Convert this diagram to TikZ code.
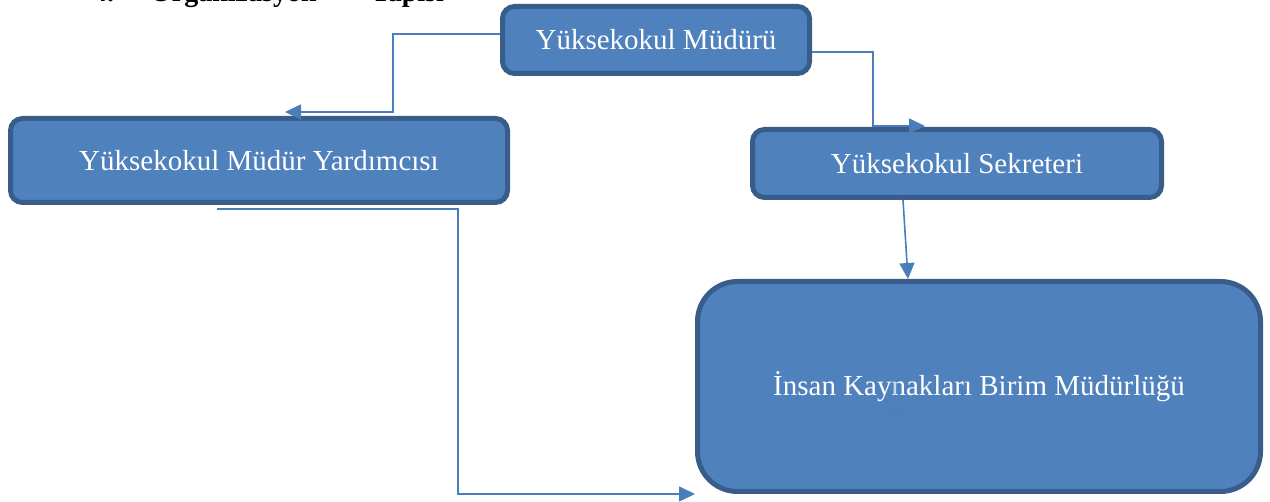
\documentclass[tikz,border=0pt]{standalone}
\usepackage{fontspec}
\setmainfont{Liberation Serif}
\usetikzlibrary{arrows.meta}

\definecolor{boxfill}{HTML}{4F81BD}
\definecolor{boxline}{HTML}{385D8A}
\definecolor{connline}{HTML}{4A7EBB}

\tikzset{
  unitbox/.style={draw=boxline,line width=5pt,fill=boxfill,rounded corners=12pt,
    text=white,align=center,inner sep=0pt,font=\fontsize{29}{34}\selectfont},
  conn/.style={draw=connline,line width=1.6pt,
    -{Triangle[length=16pt,width=15pt]}},
}

\begin{document}
\begin{tikzpicture}[x=1pt,y=-1pt]%
\useasboundingbox (0,0) rectangle (1270,502);%
\clip (0,0) rectangle (1270,502);%
% heading, cut off at the top edge
\node[anchor=base west,inner sep=0pt,font=\bfseries\fontsize{28}{30}\selectfont] (title) at (93,2) {4.\hspace{36pt}Organizasyon\hspace{54pt}Yapısı};%
% units
\node[unitbox,minimum width=307pt,minimum height=67pt] (mudur) at (656,40) {Yüksekokul Müdürü};%
\node[unitbox,minimum width=497pt,minimum height=84pt] (yard) at (259,160.5) {Yüksekokul Müdür Yardımcısı};%
\node[unitbox,minimum width=409pt,minimum height=68pt] (sekr) at (957,163.5) {Yüksekokul Sekreteri};%
\node[unitbox,minimum width=563pt,minimum height=210pt,rounded corners=40pt] (insan) at (979,386.5) {İnsan Kaynakları Birim Müdürlüğü};%
% connectors
\draw[conn] ([yshift=6pt]mudur.west) -| ([shift={(134pt,4pt)}]yard.north) -- ([shift={(26pt,4pt)}]yard.north);%
\draw[conn] ([yshift=-12pt]mudur.east) -| ([shift={(-84pt,1pt)}]sekr.north) -- ([shift={(-32pt,1pt)}]sekr.north);%
\draw[conn] ([xshift=-54pt]sekr.south) -- ([xshift=-71pt]insan.north);%
\draw[conn] ([shift={(-42pt,-4pt)}]yard.south) -- ([shift={(199pt,-4pt)}]yard.south) |- (insan.south west);%
\draw[conn,opacity=0.3] ([shift={(-72pt,22pt)}]insan.center) -- ([shift={(-84pt,22pt)}]insan.center) -- ([shift={(-84pt,-36pt)}]insan.center);%
\end{tikzpicture}
\end{document}
